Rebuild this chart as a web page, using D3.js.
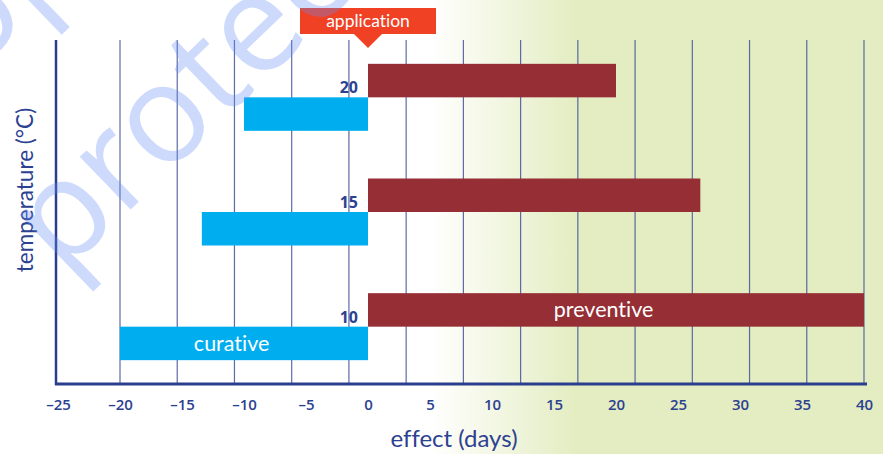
<!DOCTYPE html>
<html>
<head>
<meta charset="utf-8">
<script src="https://cdn.jsdelivr.net/npm/d3@7"></script>
<style>
  body { margin: 0; background: #fff; }
  svg { display: block; font-variant-ligatures: none; }
</style>
</head>
<body>
<script>
// Temperature rows (°C), top to bottom
const temperatures = [20, 15, 10];
// Days of protection after application (preventive) and before it (curative)
const preventiveDays = [20, 26.8, 40];
const curativeDays = [-10, -13.4, -20];
// Axis tick values (days)
const xTicks = [-25, -20, -15, -10, -5, 0, 5, 10, 15, 20, 25, 30, 35, 40];
// Number of vertical rules drawn across the plot
const gridCount = 14;

const W = 883, H = 454;
const ink = "#2d4191";
const font = "Lato, 'Open Sans', sans-serif";
const numFont = "'Open Sans', Lato, sans-serif";

const svg = d3.select("body").append("svg")
  .attr("width", W).attr("height", H);

const x = d3.scaleLinear().domain([-25, 40]).range([58, 864]);
const y = d3.scalePoint().domain(temperatures).range([40, 384]).padding(0.5);
const barH = 33.5;
const plotTop = 40, plotBottom = 384;

// background: white fading into pale green on the right
const defs = svg.append("defs");
const grad = defs.append("linearGradient")
  .attr("id", "bg").attr("gradientUnits", "userSpaceOnUse")
  .attr("x1", 430).attr("x2", 575).attr("y1", 0).attr("y2", 0);
grad.append("stop").attr("offset", 0).attr("stop-color", "#ffffff");
grad.append("stop").attr("offset", 1).attr("stop-color", "#e4edc2");
svg.append("rect").attr("width", W).attr("height", H).attr("fill", "url(#bg)");

// vertical rules
const gx = d3.scaleLinear().domain([0, gridCount - 1]).range([x(-20), x(40)]);
svg.append("g").selectAll("line").data(d3.range(gridCount)).join("line")
  .attr("x1", d => gx(d)).attr("x2", d => gx(d))
  .attr("y1", plotTop).attr("y2", plotBottom)
  .attr("stroke", "#40529c").attr("stroke-width", 1.2).attr("opacity", 0.85);

// axis lines
svg.append("line")
  .attr("x1", x(-25) - 2).attr("x2", x(-25) - 2)
  .attr("y1", plotTop).attr("y2", plotBottom + 1)
  .attr("stroke", "#2b3d8d").attr("stroke-width", 2.5);
svg.append("line")
  .attr("x1", x(-25) - 3).attr("x2", x(40) + 3)
  .attr("y1", plotBottom).attr("y2", plotBottom)
  .attr("stroke", "#2b3d8d").attr("stroke-width", 3);

// bars
const rows = temperatures.map((t, i) => ({ t, prev: preventiveDays[i], cur: curativeDays[i] }));
svg.append("g").selectAll("rect").data(rows).join("rect")
  .attr("x", x(0)).attr("y", d => y(d.t) - barH)
  .attr("width", d => x(d.prev) - x(0)).attr("height", barH)
  .attr("fill", "#952e35");
svg.append("g").selectAll("rect").data(rows).join("rect")
  .attr("x", d => x(d.cur)).attr("y", d => y(d.t))
  .attr("width", d => x(0) - x(d.cur)).attr("height", barH)
  .attr("fill", "#00aeef");

// temperature labels
svg.append("g").selectAll("text").data(temperatures).join("text")
  .attr("x", x(0) - 10).attr("y", d => y(d) - 4)
  .attr("text-anchor", "end")
  .attr("font-family", numFont).attr("font-weight", 700).attr("font-size", 16)
  .attr("fill", ink).text(d => d);

// series names inside the longest bars
svg.append("text")
  .attr("x", x(-11)).attr("y", y(10) + barH / 2)
  .attr("dy", "0.35em").attr("text-anchor", "middle")
  .attr("font-family", font).attr("font-size", 21.5).attr("fill", "#fff")
  .text("curative");
svg.append("text")
  .attr("x", x(19)).attr("y", y(10) - barH / 2)
  .attr("dy", "0.35em").attr("text-anchor", "middle")
  .attr("font-family", font).attr("font-size", 21.5).attr("fill", "#fff")
  .text("preventive");

// x axis tick labels
const axis = d3.axisBottom(x).tickValues(xTicks).tickSize(0).tickPadding(0)
  .tickFormat(d => d < 0 ? "\u2013" + Math.abs(d) : String(d));
const ax = svg.append("g").attr("transform", `translate(0,${plotBottom + 15})`).call(axis);
ax.select(".domain").remove();
ax.selectAll("text")
  .attr("font-family", numFont).attr("font-weight", 600).attr("font-size", 15)
  .attr("fill", ink);

// axis titles
svg.append("text")
  .attr("x", 454).attr("y", 447).attr("text-anchor", "middle")
  .attr("font-family", font).attr("font-size", 24).attr("fill", ink)
  .text("effect (days)");
svg.append("text")
  .attr("transform", "translate(33,190) rotate(-90)")
  .attr("text-anchor", "middle")
  .attr("font-family", font).attr("font-size", 22.5).attr("fill", ink)
  .text("temperature (°C)");

// application marker at day 0
const call = svg.append("g").attr("transform", `translate(${x(0)},0)`);
call.append("rect").attr("x", -68).attr("y", 8).attr("width", 136).attr("height", 26)
  .attr("fill", "#f04124");
call.append("path").attr("d", "M-15,33 L15,33 L0,48 Z").attr("fill", "#f04124");
call.append("text").attr("y", 27).attr("text-anchor", "middle")
  .attr("font-family", font).attr("font-size", 17.5).attr("fill", "#fff")
  .text("application");

// watermark
const wm = svg.append("g").attr("pointer-events", "none")
  .attr("font-family", "'Open Sans', sans-serif").attr("font-size", 137).attr("font-weight", 500)
  .attr("fill", "rgb(100,140,245)").attr("fill-opacity", 0.32);
wm.append("text").attr("transform", "translate(62,276) rotate(-44)").text("protected");
wm.append("text").attr("transform", "translate(-76,122) rotate(-44)").text("copy protected");
</script>
</body>
</html>
